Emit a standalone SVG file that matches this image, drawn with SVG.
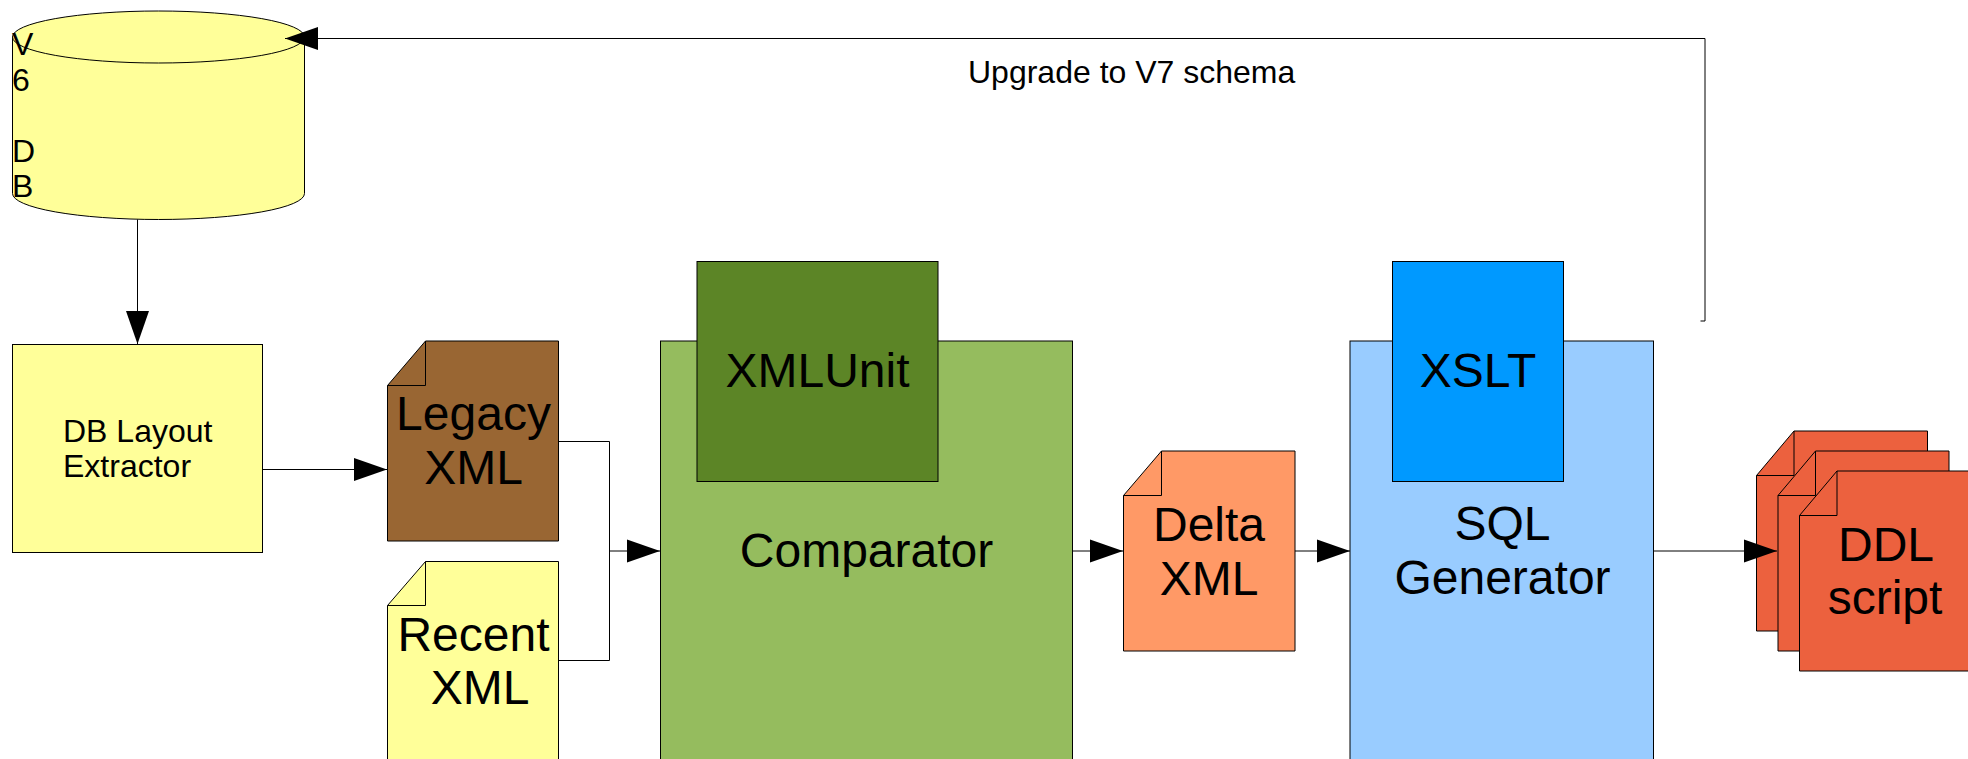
<svg xmlns="http://www.w3.org/2000/svg" width="1968" height="759" viewBox="0 0 1968 759">
<style>
.s{stroke:#000;stroke-width:1;stroke-linejoin:miter}
text{font-family:"Liberation Sans",Arial,sans-serif;fill:#000}
.b{font-size:48px;text-anchor:middle}
.m{font-size:32px}
.fold{fill:none;stroke:#000;stroke-width:1}
.c{fill:none;stroke:#000;stroke-width:1;marker-end:url(#arrow)}
.n{fill:none;stroke:#000;stroke-width:1}
</style>
<defs>
<marker id="arrow" markerUnits="userSpaceOnUse" markerWidth="33" markerHeight="24" refX="33" refY="12" orient="auto" overflow="visible">
<path d="M0 0.5L33 12L0 23.5Z" fill="#000"/>
</marker>
</defs>
<rect width="1968" height="759" fill="#fff"/>
<g id="v6-db">
<path class="s" fill="#ffff99" d="M12.5 37V193.5A146 26 0 0 0 304.5 193.5V37Z"/>
<ellipse class="s" fill="#ffff99" cx="158.5" cy="37" rx="146" ry="26"/>
<text class="m" x="12" y="55">V</text>
<text class="m" x="12" y="90.5">6</text>
<text class="m" x="12" y="161.5">D</text>
<text class="m" x="12" y="197">B</text>
</g>
<g id="db-layout-extractor">
<rect class="s" fill="#ffff99" x="12.5" y="344.5" width="250" height="208"/>
<text class="m" x="63" y="442">DB Layout</text>
<text class="m" x="63" y="477">Extractor</text>
</g>
<g id="legacy-xml">
<path class="s" fill="#996633" d="M425.5 341H558.5V541H387.5V385.5Z"/>
<path class="fold" d="M425.5 341V385.5H387.5"/>
<text class="b" x="473.5" y="430">Legacy</text>
<text class="b" x="473.5" y="483.5">XML</text>
</g>
<g id="recent-xml">
<path class="s" fill="#ffff99" d="M425.5 561.5H558.5V770H387.5V605.5Z"/>
<path class="fold" d="M425.5 561.5V605.5H387.5"/>
<text class="b" x="473.5" y="651">Recent</text>
<text class="b" x="480" y="704">XML</text>
</g>
<g id="comparator">
<rect class="s" fill="#95bc5e" x="660.5" y="341" width="412" height="430"/>
<text class="b" x="866.5" y="567">Comparator</text>
</g>
<g id="xmlunit">
<rect class="s" fill="#5c8526" x="697" y="261.5" width="241" height="220"/>
<text class="b" x="817.5" y="387">XMLUnit</text>
</g>
<g id="delta-xml">
<path class="s" fill="#ff9966" d="M1161.5 451H1295V651H1123.5V495.5Z"/>
<path class="fold" d="M1161.5 451V495.5H1123.5"/>
<text class="b" x="1209" y="541">Delta</text>
<text class="b" x="1209" y="594.5">XML</text>
</g>
<g id="sql-generator">
<rect class="s" fill="#99ccff" x="1350" y="341" width="303.5" height="430"/>
<text class="b" x="1502.5" y="539.5">SQL</text>
<text class="b" x="1502.5" y="593.5">Generator</text>
</g>
<g id="xslt">
<rect class="s" fill="#0099ff" x="1392.5" y="261.5" width="171" height="220"/>
<text class="b" x="1478" y="387">XSLT</text>
</g>
<g id="ddl-script">
<path class="s" fill="#ec613e" d="M1794 431H1927.5V631H1756.5V475.5Z"/>
<path class="fold" d="M1794 431V475.5H1756.5"/>
<path class="s" fill="#ec613e" d="M1815.5 451H1949V651H1778V495.5Z"/>
<path class="fold" d="M1815.5 451V495.5H1778"/>
<path class="s" fill="#ec613e" d="M1837 471H1975V671H1799.5V515.5Z"/>
<path class="fold" d="M1837 471V515.5H1799.5"/>
<text class="b" x="1886" y="561">DDL</text>
<text class="b" x="1885" y="613.5">script</text>
</g>
<g id="connectors">
<path class="c" d="M137.5 219.5V344"/>
<path class="c" d="M262.5 469.5H387"/>
<path class="n" d="M558.5 441.5H609.5V660.5H558.5"/>
<path class="c" d="M609.5 551H660"/>
<path class="c" d="M1072.5 551H1123"/>
<path class="c" d="M1295 551H1350"/>
<path class="c" d="M1653.5 551H1777"/>
<path class="c" d="M1700.5 321H1705V38.5H285"/>
</g>
<g id="upgrade-label">
<text class="m" x="968" y="83">Upgrade to V7 schema</text>
</g>
</svg>
